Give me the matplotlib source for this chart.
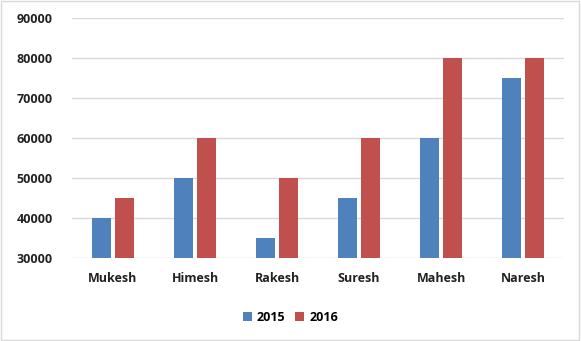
import numpy as np
import matplotlib.pyplot as plt
from matplotlib.patches import Rectangle

names = ["Mukesh", "Himesh", "Rakesh", "Suresh", "Mahesh", "Naresh"]
sales_2015 = [40000, 50000, 35000, 45000, 60000, 75000]
sales_2016 = [45000, 60000, 50000, 60000, 80000, 80000]

plt.rcParams['font.family'] = ['Open Sans', 'DejaVu Sans']

fig = plt.figure(figsize=(5.81, 3.41), dpi=100)
ax = fig.add_axes([0.124, 0.2434, 0.847, 0.7036])

x = np.arange(len(names))
w = 0.23
ax.bar(x - 0.14, np.array(sales_2015) - 30000, w, bottom=30000, color='#4F81BD', label='2015', zorder=3)
ax.bar(x + 0.14, np.array(sales_2016) - 30000, w, bottom=30000, color='#C0504D', label='2016', zorder=3)

ax.set_xlim(-0.5, 5.5)
ax.set_ylim(30000, 90000)
ax.set_yticks(range(30000, 90001, 10000))
ax.set_xticks(x)
ax.set_xticklabels(names)
ax.grid(axis='y', color='#D9D9D9', linewidth=1, zorder=0)
for s in ax.spines.values():
    s.set_visible(False)
ax.tick_params(length=0)
ax.tick_params(axis='y', pad=14)
ax.tick_params(axis='x', pad=10)
for lab in ax.get_yticklabels() + ax.get_xticklabels():
    lab.set_fontsize(9)
    lab.set_fontweight('bold')
    lab.set_color('#222222')

ax.legend(loc='center', bbox_to_anchor=(0.5, 0.07), bbox_transform=fig.transFigure,
          ncol=2, frameon=False, handlelength=0.7, handleheight=0.7,
          columnspacing=0.8, handletextpad=0.4,
          prop={'weight': 'bold', 'size': 9})

fig.patches.append(Rectangle((0.002, 0.003), 0.995, 0.993, transform=fig.transFigure,
                             fill=False, edgecolor='#D9D9D9', linewidth=1))

fig.savefig('out.png', dpi=100)
